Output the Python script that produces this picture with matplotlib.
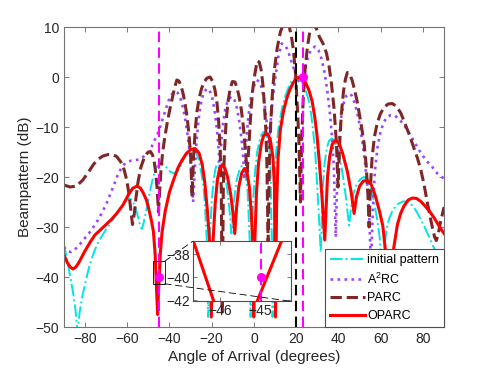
import matplotlib
matplotlib.use("Agg")
import matplotlib.pyplot as plt
from matplotlib.patches import Rectangle, ConnectionPatch

plt.rcParams["font.family"] = ["Liberation Sans", "DejaVu Sans"]
plt.rcParams["mathtext.fontset"] = "custom"
plt.rcParams["mathtext.rm"] = "Liberation Sans"
plt.rcParams["mathtext.it"] = "Liberation Sans:italic"

# traced beampatterns (angle in degrees, level in dB)
init_x = [-90, -88.5, -87, -85.5, -84.5, -83.5, -82.5, -81.3, -80, -78.5, -77, -75.5, -74, -72,
          -70, -66, -62, -60.5, -59, -57.8, -57, -56, -55, -54, -53.1, -52.3, -51.5, -50.5,
          -49.5, -48.5, -47.5, -46.5, -45.5, -44, -42, -39.5, -37, -35.5, -34, -32.5, -31,
          -29.8, -28.5, -27.5, -26.2, -25, -24, -23.3, -22.3, -21.7, -21.0, -20, -19.2, -18.3,
          -17.4, -16.5, -15.5, -14.5, -13.5, -12.5, -11.5, -10.7, -9.8, -9, -8, -7, -5.8, -4.8,
          -4, -3, -2, -1.6, -1.1, -0.3, 0.5, 1.5, 2.6, 3.5, 4.5, 5.6, 6.5, 7.3, 7.8, 8.4, 8.8,
          9.3, 10, 10.8, 11.5, 12.5, 13.5, 15, 16.5, 18, 20, 21.5, 23, 24.5, 25.8, 27, 28.1,
          29, 29.7, 30.5, 31.6, 32.6, 33.5, 34.6, 35.6, 36.8, 38, 39.3, 40.5, 42, 43.5, 45, 46,
          47, 48.3, 49.8, 51, 52.1, 53.3, 54.5, 55.8, 57, 58.3, 59.5, 60.8, 62, 63, 64, 65.5,
          67, 68.5, 70.5, 72.6, 74.5, 76.5, 78.5, 80.5, 82.5, 84.5, 86.8, 88.5, 90]
init_y = [-33.3, -36.5, -39.8, -43.5, -46.5, -51, -47, -44, -41.5, -38.8, -36.5, -34.8, -33.3,
          -31.8, -30.5, -28, -25.5, -24.6, -24.3, -24.6, -25.2, -26.3, -27.8, -29.5, -30.4,
          -29.3, -27.8, -25.6, -23.5, -21.4, -19.7, -18.4, -17.7, -17.3, -17.8, -19, -19.3,
          -18.5, -17.2, -15.7, -14.6, -14.1, -14.3, -15, -16.5, -19, -21.5, -25, -33, -48, -33,
          -25, -21, -18.5, -17.2, -16.8, -17.1, -18, -20, -23, -27, -31.3, -26.5, -23, -20.3,
          -18.8, -17.8, -18.2, -19.3, -23, -33, -48, -33, -24, -19, -15, -12.8, -11.6, -11,
          -11.4, -12.5, -14.5, -17, -33, -48, -33, -18, -13.5, -10.5, -8, -5.8, -3.6, -1.9,
          -0.7, 0, -0.4, -1.2, -2.6, -4.5, -7.2, -11.2, -15, -20, -26, -35, -22, -17, -14,
          -12.7, -12.3, -12.7, -14, -15.8, -19.5, -24, -29.7, -26, -23.5, -21.8, -20.7, -20.2,
          -20, -20.4, -21.4, -23, -25.3, -28.5, -32, -42, -33, -30, -28.3, -26.8, -25.9, -25.3,
          -24.9, -24.9, -25.5, -26.6, -28.1, -29.8, -31.6, -33.5, -35.7, -37.5, -39]

a2rc_x = [-90, -88, -86.5, -85, -82.5, -80, -78, -76, -74, -72, -69.8, -68, -66, -64.5, -63,
          -61.5, -60, -58, -56, -54.5, -53, -51.5, -49.9, -48.5, -47, -45.1, -43.5, -42, -40.5,
          -39, -37.3, -36, -34.8, -33.5, -32.3, -31.3, -30.3, -29.5, -28.8, -28, -27.2, -26.3,
          -25.3, -24, -22.4, -21, -19.7, -18.6, -17.6, -16.8, -16.2, -15.5, -14.7, -13.6,
          -12.3, -10.6, -9.2, -8, -7, -6, -5.2, -4.5, -3.7, -2.8, -1.8, -0.5, 1.3, 2.8, 4, 5,
          6, 7, 7.8, 8.8, 10, 11.5, 13.1, 14.8, 16.3, 17.8, 19.2, 20.5, 21.7, 22.8, 24, 25.3,
          26.8, 28.9, 30.5, 32, 33.5, 34.8, 36, 37, 37.8, 38.7, 39.5, 40.3, 41.3, 42.5, 43.8,
          45, 46.3, 47.5, 48.8, 50, 51.2, 52.4, 53.5, 54.5, 55.4, 56.3, 57.3, 58.5, 60, 61.5,
          63, 64.8, 66.5, 68.5, 71, 73.5, 75.8, 78, 80, 82, 83.7, 85.3, 86.8, 88.5, 90]
a2rc_y = [-34, -34.9, -35, -34.6, -33.5, -32.2, -31.2, -30, -28.7, -27.2, -25.3, -23.4, -21.3,
          -19.6, -18.4, -17.5, -17, -16.7, -16.6, -16.5, -16.2, -15.6, -14.9, -14, -12.6,
          -10.9, -8.8, -6.8, -4.8, -3.5, -2.9, -3.2, -4.3, -6.3, -9, -12, -15.5, -19.5, -25,
          -18.5, -13, -8.8, -5.6, -3.4, -2.3, -2.7, -4.2, -6.8, -10.2, -14, -18, -13.5, -9.5,
          -6.4, -4.6, -3.9, -4.6, -6.3, -8.8, -12, -15.5, -20.5, -13.5, -8.5, -5, -2.3, -0.6,
          -1, -2.8, -5.3, -9, -13.5, -9.5, -4.5, -0.5, 4, 6.7, 6.4, 5, 3, 1.3, -0.3, -1.2,
          -0.2, 1.6, 3.6, 5.3, 6.1, 5.4, 3.6, 0.7, -3, -7.5, -12.5, -18, -32, -19, -12.5, -8,
          -5.2, -3.7, -3.3, -3.7, -5, -7, -9.5, -12.6, -16.5, -21, -27, -38, -26, -18.5, -14,
          -10.8, -9, -8, -7.6, -7.7, -8.3, -9.6, -11.2, -12.9, -14.5, -15.8, -16.9, -17.6,
          -18.5, -19.3, -19.9, -20.3]

parc_x = [-90, -87, -84, -81, -78, -76, -74, -71.5, -69, -67, -65, -63, -61.5, -60.3, -59.3,
          -58.3, -57.5, -56.7, -55.8, -54.8, -53.5, -52, -50.5, -49, -48, -47.2, -46.5, -45.8,
          -45.2, -44.6, -44, -43.2, -42.2, -41, -39.8, -38.5, -37.5, -36.5, -35.5, -34.5,
          -33.5, -32.5, -31.6, -30.8, -30, -29.3, -28.6, -27.8, -27, -26, -24.8, -23.5, -22.2,
          -20.8, -19.5, -18.5, -17.5, -16.7, -16, -15.5, -15, -14.5, -14, -13.2, -12.3, -11.3,
          -10.2, -9, -8, -7, -6, -5, -4.2, -3.2, -2.3, -1.4, -0.5, 0.5, 1.5, 2.5, 3.5, 4.3, 5,
          5.6, 6.1, 6.7, 7.3, 7.9, 8.6, 9.6, 11, 12.5, 14, 15.3, 16.5, 17.6, 18.7, 19.7, 20.6,
          21.3, 22, 22.6, 23.3, 24.2, 25.3, 26.4, 27.5, 28.5, 29.6, 31, 33.2, 34.4, 35.5, 36.7,
          37.9, 39, 39.8, 40.6, 41.4, 42.4, 43.3, 44.2, 45.3, 46.5, 47.7, 48.9, 50, 51, 52.1,
          53.1, 54, 54.5, 55.1, 55.9, 57, 58.3, 59.8, 61.5, 63.5, 65.5, 67.5, 69.5, 71.1, 73.5,
          75.8, 77.5, 79, 80.5, 82.1, 83.4, 84.5, 85.5, 86.3, 87.2, 88.3, 89.2, 90]
parc_y = [-21.6, -22, -21.8, -20.6, -18.8, -17.5, -16.5, -15.8, -15.5, -15.5, -15.9, -17,
          -18.5, -20.5, -23, -26.5, -29.5, -27.5, -24, -20.8, -18, -16.2, -15.2, -14.9, -15.6,
          -17, -19.2, -22.5, -27, -22.5, -18.5, -15, -12, -9, -6.4, -3.9, -2, -0.6, -0.8, -1.8,
          -3.4, -5.6, -8.2, -11.3, -15.5, -24, -16, -10.5, -7, -4.3, -2.3, -0.9, -0.2, 0, -0.9,
          -2.5, -5.2, -9, -14.5, -22, -47, -22, -15, -9, -5, -2.4, -0.9, -1, -2.2, -4, -6.5,
          -10, -14, -19, -13, -6.5, -2.2, 0.8, 3.2, 3, 1.2, -1.8, -6, -10.5, -17, -33, -17,
          -9.5, -4, 1.3, 5.8, 9, 10.7, 11, 10.3, 8.5, 5.3, 0.5, -6.5, -13, -25, -12, -4.5, 1.5,
          6, 9, 10.4, 10.4, 9.6, 8, 6.3, 4.6, 2.3, -1.4, -6.3, -13, -22, -13, -7.2, -2.8, -0.4,
          0.9, 0.6, -0.7, -2.7, -5, -7.7, -10.2, -13.2, -17.6, -24, -30, -22, -16.2, -12, -9.3,
          -7.4, -6.1, -5.4, -5.3, -5.9, -7.2, -8.9, -11.5, -14.3, -16.4, -18.6, -21.5, -25.2,
          -28, -30.2, -32, -32.7, -31.5, -29, -27.4, -26]

oparc_x = [-90, -88.5, -87, -85.7, -84.3, -83, -81.5, -80, -77.5, -75.3, -72.5, -70, -67.3, -65,
           -62, -59.5, -57.5, -55.4, -53.8, -52.5, -51, -50, -48.5, -47.6, -46.8, -46.0, -45.6,
           -45.2, -44.3, -43.5, -42, -40, -38, -36, -34, -32, -30, -27.9, -26, -24.5, -23.3, -22,
           -21, -20.2, -19.4, -18.3, -17.3, -16.2, -15, -13.8, -12.5, -11, -10, -9.1, -8.2, -7.2,
           -5.8, -4.4, -3.2, -2.2, -1.3, -0.6, -0.1, 0.4, 1.2, 2.2, 3.5, 4.6, 5.8, 7, 8, 9,
           9.7, 10.2, 10.7, 11.4, 12.5, 14, 15.5, 17, 18.5, 20, 21.5, 23, 24.5, 26, 27.5, 28.7,
           29.8, 30.8, 32.2, 33.5, 34.8, 35.8, 37, 38.7, 40.3, 42, 44.2, 46, 47.4, 48.5, 50,
           51.8, 53.7, 55.5, 57.5, 59.5, 61, 62.2, 64, 66, 67.9, 69.5, 71, 73, 75, 77, 79, 81,
           83, 85, 86.5, 88, 90]
oparc_y = [-35.5, -37, -38, -38.4, -38, -37.2, -36, -34.8, -33, -31.6, -30.5, -29.5, -28.4,
           -27.3, -25.6, -23.6, -22.3, -21.8, -22.2, -23.1, -24.5, -26, -28.8, -30.9, -35.3,
           -43.7, -47.5, -43.1, -35.2, -31, -26.8, -23, -20.5, -18.2, -16.6, -15.3, -14.5,
           -14.3, -15.2, -17.5, -21, -27, -33, -48, -33, -25, -20.5, -18.2, -17.6, -18.2, -20,
           -23.5, -27, -31.3, -26, -22, -19.2, -18.3, -19.3, -22, -27, -33, -48, -33, -23, -17,
           -13.3, -11.7, -11.3, -11.8, -13.2, -16.2, -22, -48, -26, -16.3, -10.5, -6.8, -4.3,
           -2.5, -1.2, -0.3, 0, -0.3, -1.2, -2.6, -4.8, -7.8, -11.5, -16.3, -24, -32.6, -20,
           -16, -13.5, -12.6, -13.3, -15.3, -18.9, -23, -27.3, -24, -21.8, -20.8, -20.7, -21.5,
           -23.8, -27, -29.8, -34.6, -42, -34.6, -29.5, -27.2, -25.8, -24.6, -24.2, -24.3,
           -24.9, -25.8, -26.8, -28, -29, -30.1, -31.3]

null_dir = -45       # constrained null direction
null_level = -40
target_dir = 23      # desired look direction
init_dir = 20
labels = ["initial pattern", "A$^2$RC", "PARC", "OPARC"]

c_init = "#00e5e8"
c_a2rc = "#9a45ff"
c_parc = "#7f2626"
c_oparc = "#ff0000"
c_mag = "#ff00ff"
gray = "#262626"

fig = plt.figure(figsize=(4.91, 3.69), dpi=100)
ax = fig.add_axes([0.13, 0.1138, 0.7745, 0.813])

ax.plot(init_x, init_y, "-.", color=c_init, lw=1.4, label=labels[0])
ax.plot(a2rc_x, a2rc_y, ":", color=c_a2rc, lw=1.9, label=labels[1])
ax.plot(parc_x, parc_y, "--", color=c_parc, lw=2.2, label=labels[2])
ax.plot(oparc_x, oparc_y, "-", color=c_oparc, lw=2.2, label=labels[3])

vdash = (0, (5, 2.6))
ax.axvline(null_dir, color=c_mag, lw=1.5, ls=vdash, zorder=5)
ax.axvline(init_dir, color="k", lw=1.5, ls=vdash, zorder=5)
ax.axvline(target_dir, color=c_mag, lw=1.5, ls=vdash, zorder=5)
ax.plot([null_dir, target_dir], [null_level, 0], "o", color=c_mag, ms=5.5, zorder=6)

ax.set_xlim(-90, 90)
ax.set_ylim(-50, 10)
ax.set_xticks(range(-80, 81, 20))
ax.set_yticks(range(-50, 11, 10))
ax.tick_params(direction="in", top=True, right=True, length=3.5, width=0.6,
               labelsize=10, colors=gray, color="0.4")
for s in ax.spines.values():
    s.set_color("0.45")
    s.set_linewidth(0.8)
ax.set_xlabel("Angle of Arrival (degrees)", fontsize=11, color=gray, labelpad=3)
ax.set_ylabel("Beampattern (dB)", fontsize=11, color=gray, labelpad=2)

leg = ax.legend(loc="lower right", borderaxespad=0, fontsize=9, handlelength=2.8,
                handletextpad=0.2, labelspacing=0.45, borderpad=0.4, fancybox=False,
                framealpha=1, edgecolor="0.3")
leg.get_frame().set_linewidth(0.8)

# zoom box around the null
box_x = (-47.75, -42.25)
box_y = (-41.35, -36.85)
ax.add_patch(Rectangle((box_x[0], box_y[0]), box_x[1] - box_x[0], box_y[1] - box_y[0],
                       fill=False, ec="k", lw=0.6, zorder=7))

axins = fig.add_axes([0.3925, 0.1835, 0.1996, 0.1626])
axins.plot(oparc_x, oparc_y, "-", color=c_oparc, lw=2.2)
axins.axvline(null_dir, color=c_mag, lw=1.5, ls=vdash)
axins.plot([null_dir], [null_level], "o", color=c_mag, ms=5.5, zorder=6)
axins.set_xlim(-46.67, -44.26)
axins.set_ylim(-42.1, -36.85)
axins.set_xticks([-46, -45])
axins.set_yticks([-42, -40, -38])
axins.tick_params(direction="in", top=True, right=True, length=3, width=0.6,
                  labelsize=10, colors=gray, color="0.4", pad=2)
for s in axins.spines.values():
    s.set_color("0.3")
    s.set_linewidth(0.8)

for xy_a, xy_b in [((box_x[1], box_y[1]), (0, 1)), ((box_x[1], box_y[0]), (1, 0))]:
    con = ConnectionPatch(xyA=xy_a, coordsA=ax.transData, xyB=xy_b, coordsB=axins.transAxes,
                          color="k", lw=0.6, ls=(0, (8, 5)), zorder=10)
    fig.add_artist(con)

fig.savefig("out.png", dpi=100)
